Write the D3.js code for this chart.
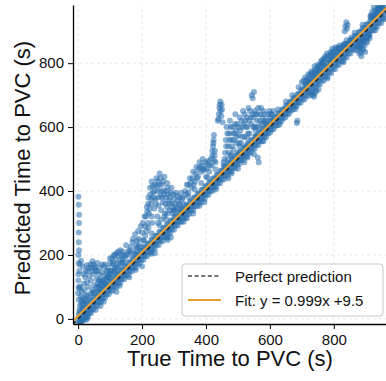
<!DOCTYPE html>
<html lang="en">

<head>
    <meta charset="utf-8">
    <title>true vs predicted time to PVC</title>
    <script src="https://cdn.jsdelivr.net/npm/d3@7"></script>
    <style>
        body {
            margin: 0;
            background: #fff;
        }

        svg {
            display: block;
            font-family: "Liberation Sans", Arial, sans-serif;
        }
    </style>
</head>

<body>
    <script>
        // tick values (s)
        var xTicks = [0, 200, 400, 600, 800];
        var yTicks = [0, 200, 400, 600, 800];

        // fit line from the legend
        var fitSlope = 0.999, fitIntercept = 9.5;
        var legendLabels = ['Perfect prediction', 'Fit: y = 0.999x +9.5'];

        // [true, predicted], grouped by region
        var coreBand = [
            [0, -12], [1, 2], [2, 14], [4, 27], [12, -3], [13, 10], [11, 23], [14, 36],
            [24, 7], [25, 21], [23, 34], [26, 48], [36, 19], [37, 32], [35, 46], [38, 60],
            [48, 30], [47, 44], [50, 57], [49, 72], [60, 41], [61, 55], [59, 69], [62, 84],
            [72, 53], [73, 67], [71, 81], [74, 95], [84, 65], [85, 78], [83, 93], [86, 107],
            [96, 77], [97, 91], [95, 104], [98, 119], [108, 88], [109, 102], [107, 117], [110, 131],
            [120, 100], [121, 114], [119, 128], [122, 143], [132, 112], [133, 126], [131, 140], [134, 154],
            [144, 124], [145, 137], [143, 152], [146, 166], [156, 136], [157, 150], [155, 163], [158, 178],
            [168, 148], [169, 161], [167, 176], [170, 189], [180, 160], [181, 174], [179, 187], [182, 201],
            [192, 172], [193, 186], [191, 199], [194, 213], [204, 184], [205, 197], [203, 211], [206, 225],
            [216, 196], [217, 209], [215, 223], [218, 236], [228, 208], [229, 221], [227, 235], [230, 249],
            [240, 219], [241, 233], [239, 247], [242, 260], [252, 231], [253, 245], [251, 258], [254, 272],
            [264, 243], [265, 257], [263, 270], [266, 284], [276, 255], [277, 268], [275, 282], [278, 296],
            [288, 267], [289, 281], [287, 294], [290, 308], [300, 279], [301, 292], [299, 306], [302, 320],
            [312, 292], [313, 305], [311, 318], [314, 331], [324, 304], [325, 317], [323, 330], [326, 343],
            [336, 316], [337, 329], [335, 342], [338, 355], [348, 328], [349, 341], [347, 354], [350, 367],
            [360, 340], [361, 353], [359, 366], [362, 379], [372, 352], [373, 365], [371, 378], [374, 391],
            [384, 364], [385, 377], [383, 390], [386, 403], [396, 376], [397, 389], [395, 402], [398, 415],
            [408, 388], [409, 401], [407, 414], [410, 427], [420, 400], [421, 413], [419, 426], [422, 439],
            [432, 412], [433, 425], [431, 438], [434, 451], [444, 424], [445, 437], [443, 450], [446, 463],
            [456, 436], [457, 449], [455, 462], [458, 475], [468, 448], [469, 461], [467, 474], [470, 487],
            [480, 460], [481, 473], [479, 486], [482, 499], [492, 472], [493, 485], [491, 498], [494, 511],
            [504, 484], [505, 497], [503, 510], [506, 523], [516, 496], [517, 509], [515, 522], [518, 535],
            [528, 508], [529, 521], [527, 534], [530, 547], [540, 520], [541, 533], [539, 546], [542, 559],
            [552, 532], [553, 545], [551, 558], [554, 571], [564, 544], [565, 557], [563, 570], [566, 583],
            [576, 556], [577, 569], [575, 582], [578, 595], [588, 568], [589, 581], [587, 594], [590, 607],
            [600, 582], [601, 594], [599, 606], [602, 618], [612, 594], [613, 606], [611, 618], [614, 630],
            [624, 606], [625, 618], [623, 630], [626, 642], [636, 618], [637, 630], [635, 642], [638, 654],
            [648, 630], [649, 642], [647, 654], [650, 666], [660, 642], [661, 654], [659, 666], [662, 678],
            [672, 654], [673, 666], [671, 678], [674, 690], [684, 666], [685, 678], [683, 690], [686, 702],
            [696, 676], [697, 690], [695, 703], [698, 716], [708, 686], [709, 701], [707, 715], [710, 729],
            [720, 697], [721, 712], [719, 727], [722, 742], [732, 709], [733, 724], [731, 739], [734, 754],
            [744, 721], [745, 736], [743, 751], [746, 766], [756, 733], [757, 748], [755, 763], [758, 778],
            [768, 745], [769, 760], [767, 775], [770, 790], [780, 757], [781, 772], [779, 787], [782, 801],
            [792, 769], [793, 784], [791, 799], [794, 813], [804, 782], [805, 796], [803, 811], [806, 825],
            [816, 794], [817, 808], [815, 823], [818, 837], [828, 806], [829, 820], [827, 835], [830, 849],
            [840, 818], [841, 832], [839, 847], [842, 861], [852, 830], [853, 844], [851, 859], [854, 873],
            [864, 842], [865, 856], [863, 871], [866, 885], [876, 854], [877, 868], [875, 883], [878, 897],
            [888, 866], [889, 880], [887, 895], [890, 909], [900, 878], [901, 892], [899, 907], [902, 921],
            [912, 890], [913, 904], [911, 919], [914, 933], [924, 902], [925, 916], [923, 931], [926, 945],
            [936, 914], [937, 928], [935, 943], [938, 957], [948, 926], [949, 940], [947, 955], [950, 969],
            [960, 938], [961, 952], [959, 967], [962, 981]
        ];

        var coreFill = [
            [6, -8], [7, 6], [5, 20], [18, 5], [19, 18], [17, 32], [30, 17], [31, 30], [29, 44],
            [42, 28], [43, 42], [41, 56], [54, 40], [55, 54], [53, 68], [66, 52], [67, 66], [65, 80],
            [78, 64], [79, 78], [77, 92], [90, 76], [91, 90], [89, 104], [102, 88], [103, 102], [101, 116],
            [114, 100], [115, 114], [113, 128], [126, 112], [127, 126], [125, 140], [138, 124], [139, 138], [137, 152],
            [150, 136], [151, 150], [149, 164], [162, 148], [163, 162], [161, 176], [174, 160], [175, 174], [173, 188],
            [186, 172], [187, 186], [185, 200], [198, 184], [199, 198], [197, 212], [210, 196], [211, 210], [209, 224],
            [222, 208], [223, 222], [221, 236], [234, 220], [235, 234], [233, 248], [246, 232], [247, 246], [245, 260],
            [258, 244], [259, 258], [257, 272], [270, 256], [271, 270], [269, 284], [282, 268], [283, 282], [281, 296],
            [294, 280], [295, 294], [293, 308], [306, 292], [307, 306], [305, 320], [318, 304], [319, 318], [317, 332],
            [330, 316], [331, 330], [329, 344], [342, 328], [343, 342], [341, 356], [354, 340], [355, 354], [353, 368],
            [366, 352], [367, 366], [365, 380], [378, 364], [379, 378], [377, 392], [390, 376], [391, 390], [389, 404],
            [402, 388], [403, 402], [401, 416], [414, 400], [415, 414], [413, 428], [426, 412], [427, 426], [425, 440],
            [438, 424], [439, 438], [437, 452], [450, 436], [451, 450], [449, 464], [462, 448], [463, 462], [461, 476],
            [474, 460], [475, 474], [473, 488], [486, 472], [487, 486], [485, 500], [498, 484], [499, 498], [497, 512],
            [510, 496], [511, 510], [509, 524], [522, 508], [523, 522], [521, 536], [534, 520], [535, 534], [533, 548],
            [546, 532], [547, 546], [545, 560], [558, 544], [559, 558], [557, 572], [570, 556], [571, 570], [569, 584],
            [582, 568], [583, 582], [581, 596], [594, 580], [595, 594], [593, 608], [606, 592], [607, 606], [605, 620],
            [618, 604], [619, 618], [617, 632], [630, 616], [631, 630], [629, 644], [642, 628], [643, 642], [641, 656],
            [654, 640], [655, 654], [653, 668], [666, 652], [667, 666], [665, 680], [678, 664], [679, 678], [677, 692],
            [690, 676], [691, 690], [689, 704], [702, 686], [703, 702], [701, 718], [714, 698], [715, 714], [713, 730],
            [726, 710], [727, 726], [725, 742], [738, 722], [739, 738], [737, 754], [750, 734], [751, 750], [749, 766],
            [762, 746], [763, 762], [761, 778], [774, 758], [775, 774], [773, 790], [786, 770], [787, 786], [785, 802],
            [798, 782], [799, 798], [797, 814], [810, 794], [811, 810], [809, 826], [822, 806], [823, 822], [821, 838],
            [834, 818], [835, 834], [833, 850], [846, 830], [847, 846], [845, 862], [858, 842], [859, 858], [857, 874],
            [870, 854], [871, 870], [869, 886], [882, 866], [883, 882], [881, 898], [894, 878], [895, 894], [893, 910],
            [906, 890], [907, 906], [905, 922], [918, 902], [919, 918], [917, 934], [930, 914], [931, 930], [929, 946],
            [942, 926], [943, 942], [941, 958], [954, 938], [955, 954], [953, 970]
        ];

        // ragged points just outside the dense band
        var bandEdge = [
            [20, 55], [45, 82], [65, 100], [95, 132], [115, 150], [140, 178], [165, 205], [185, 222], [205, 245], [230, 268],
            [255, 292], [275, 312], [300, 338], [320, 358], [345, 382], [365, 405], [385, 425], [405, 442], [430, 468], [455, 490],
            [480, 515], [505, 540], [530, 565], [555, 590], [580, 615], [605, 640], [625, 655], [650, 680], [670, 700], [690, 725],
            [715, 748], [740, 772], [765, 795], [790, 822], [815, 848], [840, 872], [865, 895], [890, 920], [915, 948], [940, 972],
            [30, 3], [80, 54], [130, 104], [180, 153], [230, 204], [280, 254], [330, 304], [380, 354], [430, 405], [480, 455],
            [530, 505], [580, 556], [630, 607], [680, 657], [730, 703], [780, 752], [830, 803], [880, 853], [930, 903]
        ];

        var lowCloud = [
            [2, 60], [3, 95], [1, 120], [4, 150], [2, 175], [3, 215], [2, 270], [3, 326], [2, 357], [1, 382],
            [6, 40], [8, 70], [10, 55], [12, 85], [7, 100], [15, 65], [18, 110], [20, 90], [22, 130], [25, 75],
            [28, 115], [30, 150], [32, 100], [35, 135], [38, 170], [40, 120], [42, 160], [45, 180], [48, 140], [50, 105],
            [52, 165], [55, 150], [58, 125], [60, 175], [62, 110], [65, 140], [68, 160], [70, 125], [72, 105], [75, 145],
            [78, 120], [80, 165], [82, 135], [85, 110], [88, 150], [90, 130], [95, 160], [98, 140], [100, 175], [103, 150],
            [106, 190], [110, 170], [112, 200], [115, 160], [118, 185], [120, 205], [124, 175], [128, 195], [132, 215], [136, 185],
            [140, 210], [145, 200], [150, 230], [5, 170], [9, 182], [14, 165], [27, 168], [54, 158],
            [5, -12], [10, -8], [15, -5], [20, 0], [30, 8], [40, 18], [8, -14], [25, -3], [55, 28], [70, 40],
            [10, 45], [16, 50], [22, 60], [28, 72], [34, 65], [40, 80], [46, 90], [52, 85], [58, 100], [64, 95],
            [70, 110], [76, 118], [82, 112], [88, 125], [94, 130], [100, 140], [106, 150], [112, 145], [118, 160], [124, 160],
            [130, 170], [136, 175], [142, 185], [148, 195], [154, 200], [158, 210], [18, 140], [24, 150], [33, 160], [44, 150],
            [47, 170], [60, 150], [65, 120], [75, 170], [85, 170], [92, 150], [100, 190], [108, 175], [115, 200], [125, 210],
            [135, 200], [1, 200], [2, 240], [3, 300], [1, 140], [2, 100], [0, 80]
        ];

        var midCloud = [
            [160, 215], [170, 240], [175, 205], [182, 230], [190, 250], [195, 225], [200, 270], [205, 245], [210, 290], [212, 320],
            [215, 350], [218, 300], [220, 380], [222, 330], [225, 410], [228, 360], [230, 430], [232, 300], [235, 395], [238, 345],
            [240, 420], [242, 375], [245, 440], [248, 320], [250, 400], [252, 355], [255, 455], [258, 385], [260, 340], [262, 420],
            [265, 365], [268, 400], [270, 445], [272, 330], [275, 380], [278, 350], [280, 410], [283, 370], [286, 340], [290, 395],
            [293, 360], [296, 330], [300, 375], [305, 350], [310, 385], [315, 360], [320, 345], [325, 375], [330, 360],
            [280, 247], [290, 255], [200, 165], [240, 205], [160, 130], [120, 85],
            [165, 225], [172, 250], [178, 265], [185, 245], [188, 275], [196, 290], [202, 300], [208, 320], [214, 275], [216, 335],
            [219, 360], [224, 345], [226, 390], [229, 375], [233, 415], [236, 380], [239, 400], [243, 360], [246, 415], [249, 430],
            [251, 380], [254, 420], [257, 440], [259, 400], [263, 380], [266, 430], [269, 390], [273, 360], [276, 400], [279, 425],
            [282, 390], [285, 360], [288, 380], [292, 410], [295, 345], [298, 390], [302, 360], [306, 395], [312, 370], [318, 380],
            [322, 395], [328, 380], [210, 260], [220, 285], [230, 320], [250, 300], [260, 310], [270, 320], [280, 330], [300, 340],
            [310, 345], [190, 230], [180, 215]
        ];

        var upperCloud = [
            [335, 400], [340, 420], [345, 395], [350, 440], [355, 410], [360, 460], [365, 430], [370, 475], [375, 445], [380, 490],
            [385, 460], [390, 500], [395, 470], [400, 445], [405, 485], [410, 460],
            [418, 480], [420, 510], [422, 540], [424, 560], [426, 495], [428, 525],
            [437, 620], [440, 640], [442, 660], [445, 680], [448, 635], [450, 655], [452, 615],
            [456, 480], [460, 520], [462, 560], [465, 600], [468, 500], [470, 540], [472, 580], [475, 620], [478, 510], [480, 560],
            [483, 600], [486, 530], [490, 580], [492, 640], [495, 550], [498, 610], [500, 520], [503, 575], [506, 630], [510, 550],
            [513, 600], [516, 650], [520, 570], [523, 620], [526, 540], [530, 600], [533, 660], [536, 580], [540, 630], [543, 700],
            [546, 690], [550, 710], [548, 600], [553, 650], [556, 570], [560, 620], [563, 660], [566, 600], [570, 640], [575, 610],
            [580, 650], [585, 620], [590, 600], [595, 640], [600, 630], [610, 650],
            [470, 440], [500, 470], [520, 490], [550, 515], [562, 505], [565, 490], [684, 613], [686, 620],
            [340, 315], [360, 330], [395, 365],
            [338, 390], [345, 420], [352, 425], [358, 440], [362, 420], [368, 455], [372, 440], [378, 470], [382, 475], [388, 480],
            [392, 465], [398, 490], [402, 470], [408, 495], [412, 480], [416, 500], [420, 525], [423, 550], [425, 575], [427, 510],
            [430, 490], [458, 500], [463, 540], [467, 580], [471, 520], [474, 560], [477, 600], [481, 540], [484, 580], [488, 560],
            [491, 610], [494, 590], [497, 570], [501, 600], [504, 550], [508, 590], [511, 620], [514, 570], [518, 610], [521, 640],
            [525, 600], [528, 630], [531, 580], [535, 620], [538, 650], [542, 610], [545, 640], [549, 630], [552, 600], [555, 640],
            [558, 600], [562, 640], [568, 620], [572, 660], [578, 630], [583, 640], [588, 620], [598, 650], [605, 640],
            [439, 625], [443, 670], [446, 650], [449, 670]
        ];

        var topCloud = [
            [700, 740], [710, 755], [715, 730], [720, 765], [725, 745], [730, 775], [735, 760], [740, 790], [745, 770], [750, 795],
            [755, 780], [760, 805], [734, 700], [740, 705], [745, 712], [752, 718], [738, 695],
            [765, 800], [770, 815], [778, 830], [785, 810], [790, 835], [795, 845], [800, 825], [805, 850], [812, 835], [818, 855],
            [825, 840], [832, 860], [838, 850], [834, 900], [836, 915], [839, 928], [841, 908], [843, 920],
            [872, 840], [876, 855], [880, 830], [884, 865], [888, 845], [892, 875], [896, 855], [900, 880], [904, 865], [908, 890],
            [912, 878], [886, 822], [898, 835], [850, 870], [855, 880], [860, 865],
            [915, 945], [920, 960], [925, 975], [930, 950], [935, 968], [940, 980], [945, 960], [950, 975], [955, 985], [958, 965],
            [705, 745], [712, 740], [718, 750], [724, 760], [728, 765], [733, 770], [742, 780], [748, 785], [753, 790], [758, 795],
            [763, 810], [768, 805], [772, 820], [776, 815], [782, 825], [788, 820], [792, 830], [798, 835], [802, 840], [808, 845],
            [815, 845], [822, 850], [828, 855], [835, 860], [878, 845], [882, 850], [890, 860], [894, 868], [902, 870], [906, 880],
            [910, 885], [885, 835], [892, 842], [918, 950], [922, 945], [928, 965], [932, 958], [938, 972], [942, 968], [948, 980],
            [952, 970]
        ];

        var points = coreBand.concat(coreFill, bandEdge, lowCloud, midCloud, upperCloud, topCloud);

        var svgWidth = 386, svgHeight = 381;
        var margin = { left: 73, top: 5 };
        var plotSize = 319;

        var svg = d3.select('body')
            .append('svg')
            .attr('width', svgWidth)
            .attr('height', svgHeight);

        var x = d3.scaleLinear().domain([-16, 982]).range([margin.left, margin.left + plotSize]);
        var y = d3.scaleLinear().domain([-16, 982]).range([margin.top + plotSize, margin.top]);

        svg.append('clipPath').attr('id', 'plot-clip')
            .append('rect')
            .attr('x', margin.left).attr('y', margin.top)
            .attr('width', plotSize).attr('height', plotSize);

        function drawGrid() {
            var g = svg.append('g').attr('clip-path', 'url(#plot-clip)')
                .style('stroke', '#e2e2e2').style('stroke-width', 0.8).style('stroke-dasharray', '3,3');
            g.selectAll('.gx').data(xTicks).enter().append('line')
                .attr('x1', d => x(d)).attr('x2', d => x(d))
                .attr('y1', y.range()[0]).attr('y2', y.range()[1]);
            g.selectAll('.gy').data(yTicks).enter().append('line')
                .attr('y1', d => y(d)).attr('y2', d => y(d))
                .attr('x1', x.range()[0]).attr('x2', x.range()[1]);
        }

        function drawPoints() {
            svg.append('g')
                .attr('clip-path', 'url(#plot-clip)')
                .selectAll('circle')
                .data(points)
                .enter().append('circle')
                .attr('cx', d => x(d[0]))
                .attr('cy', d => y(d[1]))
                .attr('r', 3)
                .style('fill', '#2a6fae')
                .style('fill-opacity', 0.55);
        }

        function drawLines() {
            var dom = x.domain();
            var g = svg.append('g').attr('clip-path', 'url(#plot-clip)');
            g.append('line')
                .attr('x1', x(dom[0])).attr('y1', y(dom[0]))
                .attr('x2', x(dom[1])).attr('y2', y(dom[1]))
                .style('stroke', '#222').style('stroke-width', 1.6).style('stroke-dasharray', '4,3');
            g.append('line')
                .attr('x1', x(dom[0])).attr('y1', y(fitSlope * dom[0] + fitIntercept))
                .attr('x2', x(dom[1])).attr('y2', y(fitSlope * dom[1] + fitIntercept))
                .style('stroke', '#e6a030').style('stroke-width', 2);
        }

        function drawAxes() {
            var xAxis = svg.append('g')
                .attr('transform', `translate(0, ${margin.top + plotSize})`)
                .call(d3.axisBottom(x).tickValues(xTicks).tickSize(5).tickPadding(5).tickSizeOuter(0));
            var yAxis = svg.append('g')
                .attr('transform', `translate(${margin.left}, 0)`)
                .call(d3.axisLeft(y).tickValues(yTicks).tickSize(5).tickPadding(4).tickSizeOuter(0));
            [xAxis, yAxis].forEach(a => {
                a.select('.domain').style('stroke', '#000').style('stroke-width', 1.3);
                a.selectAll('.tick line').style('stroke', '#000').style('stroke-width', 1);
                a.selectAll('.tick text').style('font-size', '15px').style('fill', '#111')
                    .style('font-family', '"Liberation Sans", Arial, sans-serif');
            });

            svg.append('text')
                .attr('x', 230).attr('y', 366)
                .attr('text-anchor', 'middle')
                .style('font-size', '22px').style('fill', '#111')
                .text('True Time to PVC (s)');
            svg.append('text')
                .attr('transform', 'translate(30, 168) rotate(-90)')
                .attr('text-anchor', 'middle')
                .style('font-size', '22px').style('fill', '#111')
                .text('Predicted Time to PVC (s)');
        }

        function drawLegend() {
            var g = svg.append('g');
            g.append('rect')
                .attr('x', 182).attr('y', 264).attr('width', 201).attr('height', 52).attr('rx', 3)
                .style('fill', '#fff').style('fill-opacity', 0.85)
                .style('stroke', '#c8c8c8').style('stroke-width', 1);
            g.append('line')
                .attr('x1', 188).attr('x2', 221).attr('y1', 276).attr('y2', 276)
                .style('stroke', '#444').style('stroke-width', 1.5).style('stroke-dasharray', '4,2.6');
            g.append('line')
                .attr('x1', 188).attr('x2', 221).attr('y1', 300).attr('y2', 300)
                .style('stroke', '#e6a030').style('stroke-width', 2);
            g.selectAll('text').data(legendLabels).enter().append('text')
                .attr('x', 235).attr('y', (d, i) => 282 + i * 24)
                .style('font-size', '15px').style('fill', '#111')
                .text(d => d);
        }

        drawGrid();
        drawPoints();
        drawLines();
        drawAxes();
        drawLegend();
    </script>
</body>

</html>
